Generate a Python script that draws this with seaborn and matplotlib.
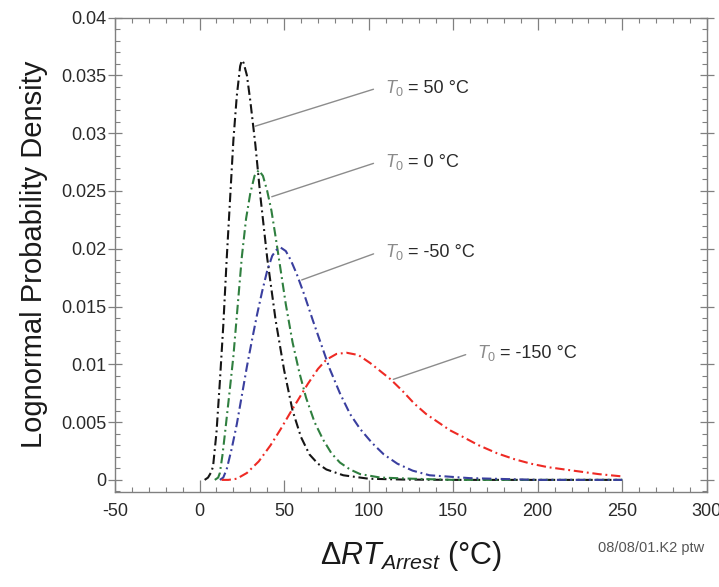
import matplotlib
matplotlib.use("Agg")
import matplotlib.pyplot as plt
import pandas as pd
import seaborn as sns
from matplotlib.ticker import MultipleLocator, FuncFormatter

# values (x in degC, y = density)
curve_names = ["T0 = 50", "T0 = 0", "T0 = -50", "T0 = -150"]
curve_colors = ["#151515", "#2f7f3f", "#3a3f9f", "#ee2a24"]

x_t50 = [3, 5, 7, 8, 10, 12, 14, 16, 18, 20, 22, 24, 25, 26, 28, 30, 33, 36, 40,
         45, 50, 55, 60, 65, 70, 75, 85, 100, 120, 150, 200, 250]
y_t50 = [0, 0.0002, 0.0007, 0.0012, 0.0041, 0.0085, 0.0133, 0.0190, 0.0242, 0.0294,
         0.0332, 0.0358, 0.0363, 0.0361, 0.0350, 0.0328, 0.0290, 0.0245, 0.0192,
         0.0138, 0.0095, 0.0060, 0.0037, 0.0022, 0.0014, 0.0009, 0.0004, 0.0001,
         0.00003, 0, 0, 0]

x_t0 = [9, 11, 12, 13.5, 15, 17.5, 20, 22.5, 25, 27.5, 30, 32.5, 35, 37.5, 40, 42.5,
        45, 47.5, 51, 55, 59, 63, 68, 73, 78, 83, 89, 95, 107, 126, 150, 200, 250]
y_t0 = [0, 0.0002, 0.0006, 0.0021, 0.0040, 0.0073, 0.0107, 0.0150, 0.0193, 0.0226,
        0.0248, 0.0263, 0.0268, 0.0263, 0.0250, 0.0233, 0.0210, 0.0186, 0.0152,
        0.0119, 0.0093, 0.0071, 0.0050, 0.0035, 0.0023, 0.0015, 0.0009, 0.0005,
        0.0002, 0.0001, 0, 0, 0]

x_tm50 = [12, 14, 16, 19, 22, 25, 28, 31, 34, 37, 40, 43, 45.5, 48, 51, 54, 57.5, 62,
          67, 72, 77, 83, 89, 95, 102, 109, 117, 126, 136, 160, 200, 250]
y_tm50 = [0, 0.0002, 0.0009, 0.0027, 0.0048, 0.0073, 0.0098, 0.0121, 0.0143, 0.0163,
          0.0181, 0.0194, 0.0199, 0.0201, 0.0198, 0.0190, 0.0178, 0.0160, 0.0138,
          0.0117, 0.0096, 0.0075, 0.0057, 0.0044, 0.0032, 0.0022, 0.0014, 0.0008,
          0.0004, 0.00015, 0, 0]

x_tm150 = [13, 17, 22, 28, 35, 42, 48, 54, 59, 64, 70, 75, 81, 87, 94, 101, 107, 113,
           120, 127, 134, 141, 148, 156, 165, 176, 186, 196, 206, 216, 226, 236, 250]
y_tm150 = [0, 0, 0.0001, 0.0006, 0.0016, 0.0030, 0.0044, 0.0059, 0.0071, 0.0083,
           0.0096, 0.0104, 0.0109, 0.0110, 0.0108, 0.0101, 0.0094, 0.0087, 0.0077,
           0.0066, 0.0057, 0.0050, 0.0043, 0.0037, 0.0030, 0.0023, 0.0018, 0.0014,
           0.0011, 0.0009, 0.0007, 0.0005, 0.0003]

# callouts: point on curve, text anchor, value text
callout_xy = [(32.8, 0.0306), (42.7, 0.0245), (60.4, 0.0173), (114.6, 0.0087)]
callout_text_xy = [(109.5, 0.0335), (109.5, 0.0271), (109.5, 0.0193), (164.0, 0.01056)]
callout_values = ["= 50 °C", "= 0 °C", "= -50 °C", "= -150 °C"]

sns.set_style("ticks")
plt.rcParams["font.family"] = ["Liberation Sans", "DejaVu Sans"]
plt.rcParams["mathtext.fontset"] = "custom"
plt.rcParams["mathtext.rm"] = "Liberation Sans"
plt.rcParams["mathtext.it"] = "Liberation Sans:italic"
plt.rcParams["axes.unicode_minus"] = False

frames = []
for name, xs, ys in zip(curve_names,
                        [x_t50, x_t0, x_tm50, x_tm150],
                        [y_t50, y_t0, y_tm50, y_tm150]):
    frames.append(pd.DataFrame({"x": xs, "y": ys, "curve": name}))
df = pd.concat(frames, ignore_index=True)

fig, ax = plt.subplots(figsize=(7.19, 5.87), dpi=100)
fig.subplots_adjust(left=0.160, right=0.983, bottom=0.162, top=0.970)

sns.lineplot(data=df, x="x", y="y", hue="curve", style="curve",
             palette=dict(zip(curve_names, curve_colors)),
             dashes=[(4.5, 1.8, 0.9, 1.8)] * 4, sort=False, estimator=None,
             linewidth=1.5, legend=False, ax=ax)

for (px, py), (tx, ty), val in zip(callout_xy, callout_text_xy, callout_values):
    ax.annotate(r"$T_0$", xy=(px, py), xytext=(tx, ty), fontsize=13, color="#8a8a8a",
                ha="left", va="baseline",
                arrowprops=dict(arrowstyle="-", color="#8c8c8c", lw=1.0,
                                shrinkA=6, shrinkB=0, relpos=(0, 0.6)))
    ax.annotate(val, xy=(tx, ty), xytext=(17, 0), textcoords="offset points",
                fontsize=13, color="#2a2a2a", ha="left", va="baseline")

ax.set_xlim(-50, 300)
ax.set_ylim(-0.00104, 0.04)
ax.xaxis.set_major_locator(MultipleLocator(50))
ax.xaxis.set_minor_locator(MultipleLocator(10))
ax.yaxis.set_major_locator(MultipleLocator(0.005))
ax.yaxis.set_minor_locator(MultipleLocator(0.001))
ax.xaxis.set_major_formatter(FuncFormatter(lambda v, p: f"{v:g}"))
ax.yaxis.set_major_formatter(FuncFormatter(lambda v, p: f"{v:g}"))

for sp in ax.spines.values():
    sp.set_visible(True)
    sp.set_color("#808080")
    sp.set_linewidth(1.0)

ax.tick_params(axis="x", which="major", direction="in", length=8.5, width=0.9,
               top=True, pad=8, labelsize=13, colors="#808080", labelcolor="#2a2a2a")
ax.tick_params(axis="x", which="minor", direction="in", length=3.6, width=0.8,
               top=True, colors="#808080")
ax.tick_params(axis="y", which="major", direction="inout", length=10, width=0.9,
               right=True, pad=1.5, labelsize=13, colors="#808080", labelcolor="#2a2a2a")
ax.tick_params(axis="y", which="minor", direction="in", length=3.6, width=0.8,
               right=True, colors="#808080")

ax.set_ylabel("Lognormal Probability Density", fontsize=21, color="#1a1a1a", labelpad=9)
ax.set_xlabel(r"$\Delta RT_{Arrest}$ (°C)", fontsize=22, color="#1a1a1a", labelpad=14)

fig.text(0.98, 0.066, "08/08/01.K2 ptw", fontsize=10.5, color="#555555",
         ha="right", va="center")

fig.savefig("out.png", dpi=100)
